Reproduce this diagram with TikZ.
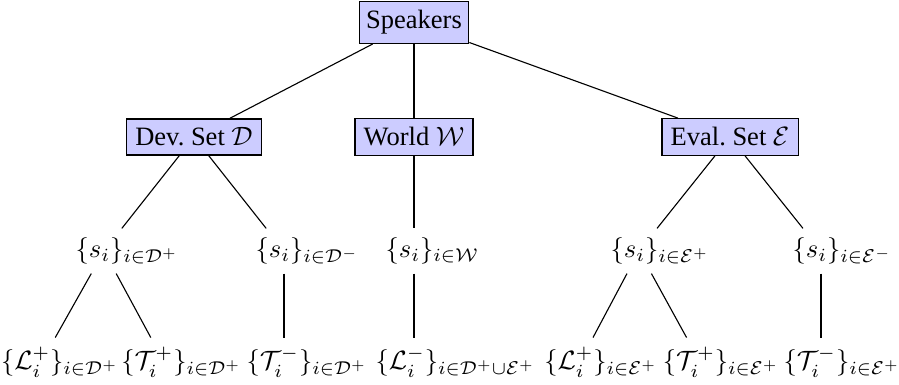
\documentclass[tikz,border=0pt]{standalone}
\usepackage[no-math]{fontspec}
\setmainfont{Liberation Serif}
\definecolor{boxfill}{RGB}{204,204,255}
% a set label whose centre sits a little right of the braced part,
% with the index subscript running out to the right;
% the optional argument pushes the text further left of the centre
\newsavebox\hubbox
\newcommand\hublabel[3][0pt]{\sbox\hubbox{$#2$}\makebox[\dimexpr\wd\hubbox+3.4pt+#1\relax][l]{$#2_{#3}$}}
\begin{document}
\begin{tikzpicture}[x=0.3774pt,y=-0.3774pt,
  setbox/.style={draw=black, fill=boxfill, line width=0.5pt},
  setleaf/.style={inner sep=3.33pt},
  branch/.style={draw=black, line width=0.42pt}]
\useasboundingbox (0,0) rectangle (899,385);

% root and the three speaker groups
\node[setbox, inner xsep=2.6pt] (spk) at (414,22.5) {Speakers};
\node[setbox] (dev) at (194,137) {Dev.\ Set $\mathcal{D}$};
\node[setbox] (wld) at (414,137) {World $\mathcal{W}$};
\node[setbox] (evl) at (730,137) {Eval.\ Set $\mathcal{E}$};

% speaker subsets
\node[setleaf] (sdp) at (104,251) {\hublabel{\{s_i\}}{i\in\mathcal{D}^+}};
\node[setleaf] (sdm) at (284,251) {\hublabel{\{s_i\}}{i\in\mathcal{D}^-}};
\node[setleaf] (swl) at (414,251) {\hublabel{\{s_i\}}{i\in\mathcal{W}}};
\node[setleaf] (sep) at (639,251) {\hublabel{\{s_i\}}{i\in\mathcal{E}^+}};
\node[setleaf] (sem) at (821,251) {\hublabel{\{s_i\}}{i\in\mathcal{E}^-}};

% utterance sets
\node[setleaf] (ldp) at (41.5,362) {\hublabel[3.6pt]{\{\mathcal{L}_i^+\}}{i\in\mathcal{D}^+}};
\node[setleaf] (tdp) at (164,362) {\hublabel[4.2pt]{\{\mathcal{T}_i^+\}}{i\in\mathcal{D}^+}};
\node[setleaf] (tdm) at (284,362) {\hublabel{\{\mathcal{T}_i^-\}}{i\in\mathcal{D}^+}};
\node[setleaf] (lwl) at (414,362) {\hublabel[2pt]{\{\mathcal{L}_i^-\}}{i\in\mathcal{D}^+\cup\mathcal{E}^+}};
\node[setleaf] (lep) at (580,362) {\hublabel{\{\mathcal{L}_i^+\}}{i\in\mathcal{E}^+}};
\node[setleaf] (tep) at (700,362) {\hublabel{\{\mathcal{T}_i^+\}}{i\in\mathcal{E}^+}};
\node[setleaf] (tem) at (821,362) {\hublabel{\{\mathcal{T}_i^-\}}{i\in\mathcal{E}^+}};

% tree edges
\draw[branch] (spk) -- (dev);
\draw[branch] (spk) -- (wld);
\draw[branch] (spk) -- (evl);
\draw[branch] (dev) -- (sdp);
\draw[branch] (dev) -- (sdm);
\draw[branch] (wld) -- (swl);
\draw[branch] (evl) -- (sep);
\draw[branch] (evl) -- (sem);
\draw[branch] (sdp) -- (ldp);
\draw[branch] (sdp) -- (tdp);
\draw[branch] (sdm) -- (tdm);
\draw[branch] (swl) -- (lwl);
\draw[branch] (sep) -- (lep);
\draw[branch] (sep) -- (tep);
\draw[branch] (sem) -- (tem);
\end{tikzpicture}
\end{document}
